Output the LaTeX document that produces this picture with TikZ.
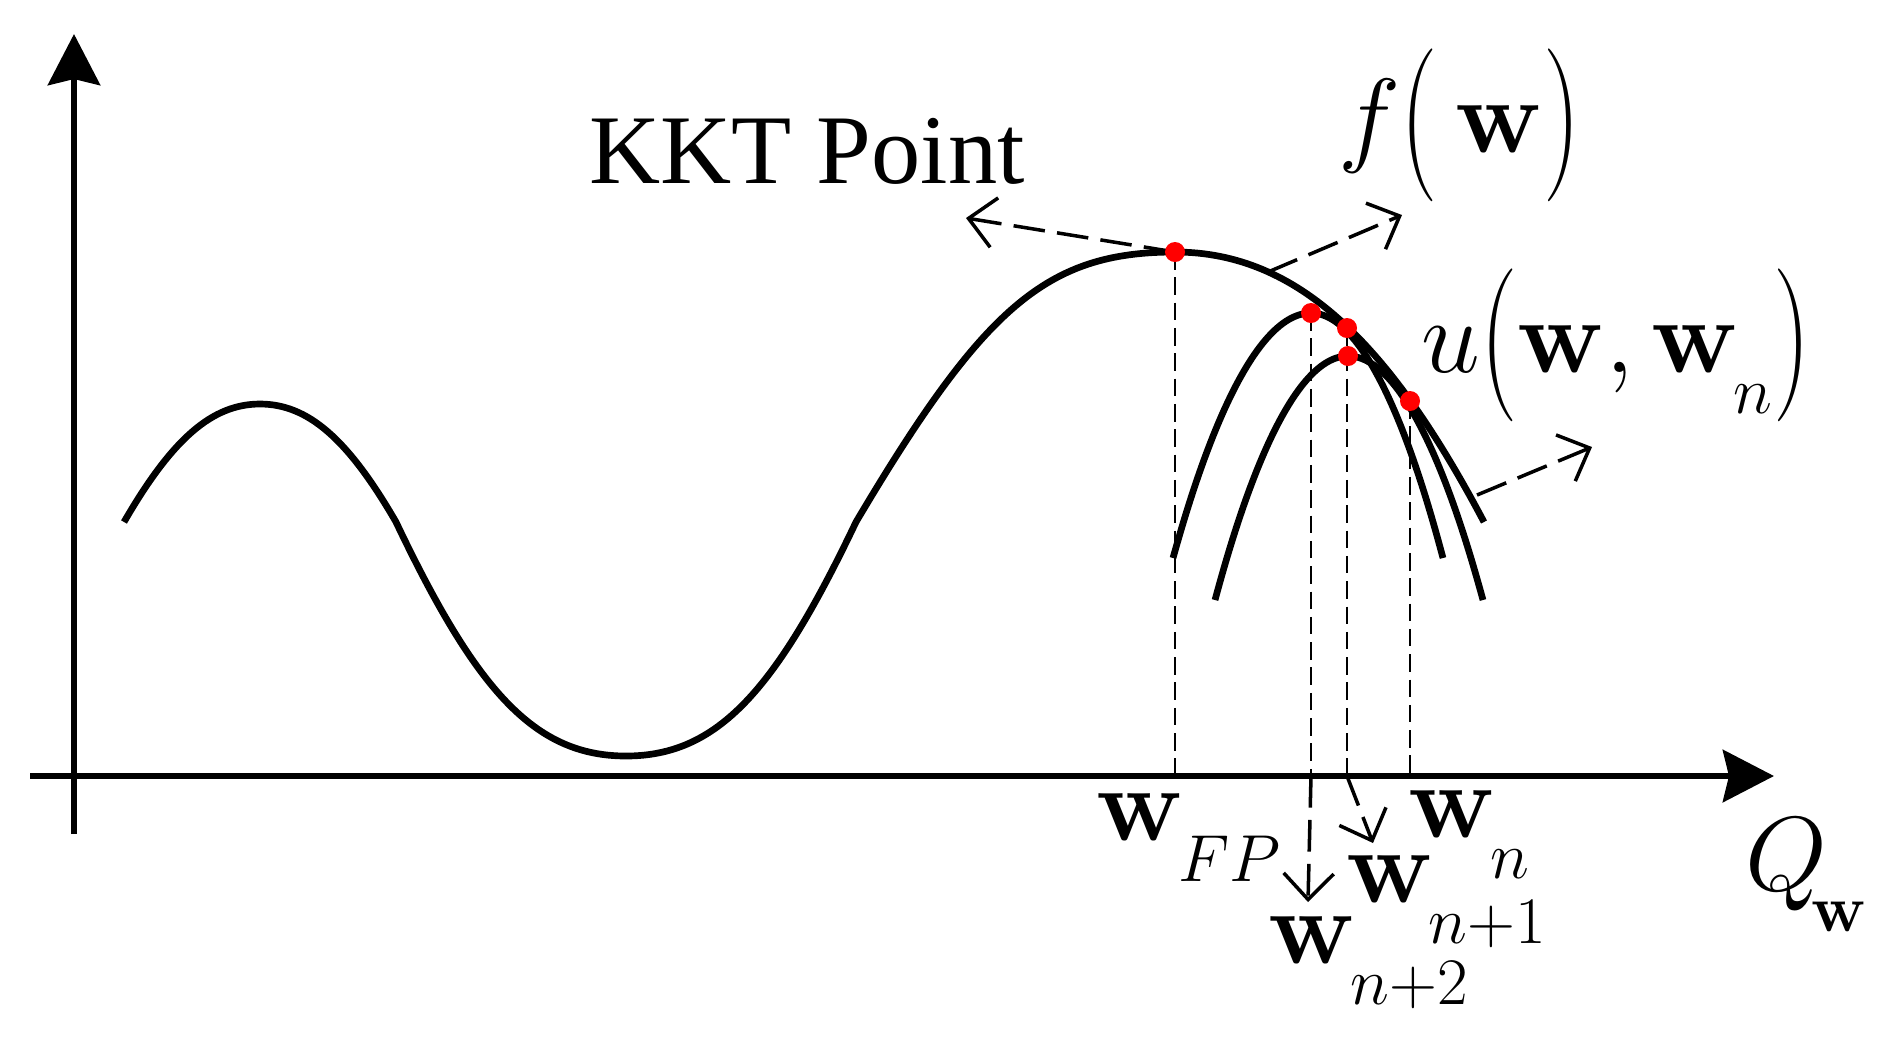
\RequirePackage{fix-cm}
\documentclass[tikz,border=0pt]{standalone}
\usepackage[no-math]{fontspec}
\usepackage{amsmath}
\usepackage{graphicx}
\usetikzlibrary{arrows.meta}
\newfontfamily\timesfont{Liberation Serif}
\newcommand{\lbig}{\mathopen{\vcenter{\hbox{\scalebox{1}[1.45]{$($}}}}}
\newcommand{\rbig}{\mathclose{\vcenter{\hbox{\scalebox{1}[1.45]{$)$}}}}}
\newcommand{\dsub}[1]{_{\kern-0.4mm\raisebox{-2.6mm}{\scalebox{0.9}{$\scriptstyle #1$}}}}
\tikzset{
    curve/.style={line width=1.9pt, line join=round},
    qaxis/.style={line width=1.9pt, -{Stealth[length=0.51cm,width=0.52cm,inset=0.06cm]}},
    vline/.style={line width=0.6pt, dash pattern=on 5pt off 2.2pt},
    pointer/.style={line width=1pt, dash pattern=on 9pt off 3.5pt, -{Straight Barb[length=0.26cm,width=0.5cm]}},
    redpt/.style={fill=red},
    lab/.style={inner sep=0pt, anchor=base west, font=\fontsize{30}{36}\selectfont},
    kktfont/.style={inner sep=0pt, anchor=base west, font={\timesfont\fontsize{28}{32}\selectfont}}
}

\begin{document}
\begin{tikzpicture}[x=0.01cm, y=-0.01cm]
        \useasboundingbox (0,0) rectangle (1881,1044);
        \coordinate (O) at (74,776);
        \coordinate (kkt) at (1175,252);
        \coordinate (pn2) at (1311,313);
        \coordinate (pn1) at (1347,328);
        \coordinate (pu) at (1348,356);
        \coordinate (pn) at (1410,401);
        \draw[vline] (kkt) -- (kkt |- O);
        \draw[vline] (pn2) -- (pn2 |- O);
        \draw[vline] (pn1) -- (pn1 |- O);
        \draw[vline] (pn) -- (pn |- O);
        \draw[qaxis] (74,834) -- (74,34);
        \draw[qaxis] (30,776) -- (1774,776);
        \draw[curve] (124,522) .. controls (172,439) and (212,404) .. (260,404)
            .. controls (308,404) and (348,439) .. (396,522)
            .. controls (476,690) and (534,756) .. (626,756)
            .. controls (718,756) and (776,690) .. (856,522)
            .. controls (984,306) and (1047,252) .. (kkt)
            .. controls (1299,252) and (1391,346) .. (1484,522);
        \draw[curve] (1173,558) parabola bend (pn2) (1443,558);
        \draw[curve] (1215,600) parabola bend (pu) (1483,600);
        \node[kktfont] (kktlab) at (589,183) {KKT Point};
        \node[lab] (flab) at (1338,152) {$f\lbig\,\mathbf{w}\rbig$};
        \node[lab] (ulab) at (1421,372) {$u\lbig\mathbf{w},\mathbf{w}\dsub{n}\rbig$};
        \node[lab] (wfp) at (1096,840) {$\mathbf{w}\dsub{FP}$};
        \node[lab] (wn) at (1408,837) {$\mathbf{w}\dsub{n}$};
        \node[lab] (wn1) at (1346,902) {$\mathbf{w}\dsub{n+1}$};
        \node[lab] (wn2) at (1268,963) {$\mathbf{w}\dsub{n+2}$};
        \node[lab] (qlab) at (1745,890) {$Q\dsub{\kern-1.3mm\mathbf{w}}$};
        \coordinate (kkttip) at (966,218);
        \coordinate (fstart) at (1268,272);
        \coordinate (ftip) at (1402,215);
        \coordinate (ustart) at (1477,495);
        \coordinate (utip) at (1592,447);
        \coordinate (n2tip) at (1308,902);
        \coordinate (n1tip) at (1373,843);
        \draw[pointer] (kkt) -- (kkttip);
        \draw[pointer] (fstart) -- (ftip);
        \draw[pointer] (ustart) -- (utip);
        \draw[pointer] (pn2 |- O) -- (n2tip);
        \draw[pointer] (pn1 |- O) -- (n1tip);
        \foreach \p in {kkt,pn2,pn1,pu,pn} \fill[redpt] (\p) circle[radius=0.1cm];
\end{tikzpicture}
\end{document}
